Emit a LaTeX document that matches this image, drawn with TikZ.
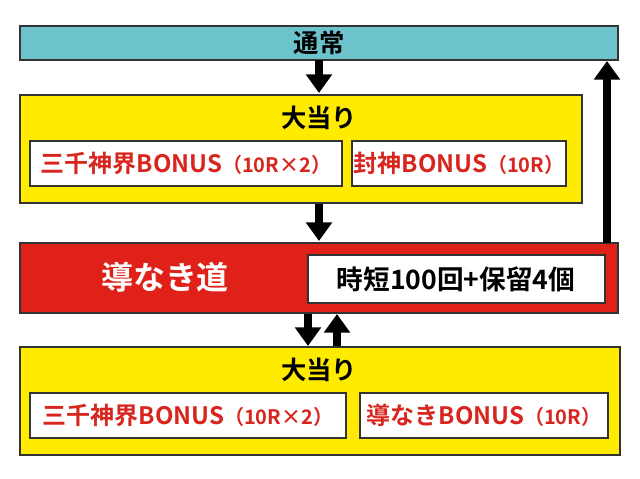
\documentclass[tikz,border=0pt]{standalone}
\usepackage{fontspec}
\setmainfont{Noto Sans CJK JP}[BoldFont={Noto Sans CJK JP Bold}]
\usetikzlibrary{arrows.meta}
\definecolor{teal1}{HTML}{6CC3CC}
\definecolor{yel}{HTML}{FFEB00}
\definecolor{red1}{HTML}{E0211A}
\definecolor{redt}{HTML}{D8251E}
\begin{document}
\begin{tikzpicture}[x=0.75pt,y=-0.75pt,
  box/.style={draw=black!80,line width=1pt},
  ibox/.style={draw=black!80,fill=white,line width=1pt},
  ttl/.style={font=\bfseries\fontsize{19}{19}\selectfont},
  rt/.style={font=\bfseries\fontsize{18}{18}\selectfont,text=redt},
  arr/.style={line width=6pt,-{Triangle[length=14pt,width=19pt]}}]
\useasboundingbox (0,0) rectangle (640,479);
\fill[white] (0,0) rectangle (640,479);
\draw[box,fill=teal1] (20,26) rectangle (618,60);
\node[ttl] (top) at (319,43) {通常};
\draw[box,fill=yel] (20,95) rectangle (582,203);
\node[ttl] (h1) at (319,118) {大当り};
\draw[ibox] (30,141) rectangle (342,186);
\node[rt] (a1) at (186,163) {三千神界BONUS\fontsize{15}{15}\selectfont（10R×2）};
\draw[ibox] (352,141) rectangle (566,186);
\node[rt] (a2) at (459,163) {封神BONUS\fontsize{15}{15}\selectfont（10R）};
\draw[box,fill=red1] (20,243) rectangle (618,313);
\node[font=\bfseries\fontsize{24}{24}\selectfont,text=white] (m) at (165,277) {導なき道};
\draw[ibox] (308,255) rectangle (605,303);
\node[font=\bfseries\fontsize{20}{20}\selectfont] (j) at (456,279) {時短100回+保留4個};
\draw[box,fill=yel] (20,347) rectangle (620,455);
\node[ttl] (h2) at (319,370) {大当り};
\draw[ibox] (30,393) rectangle (346,438);
\node[rt] (b1) at (188,415) {三千神界BONUS\fontsize{15}{15}\selectfont（10R×2）};
\draw[ibox] (360,393) rectangle (608,438);
\node[rt] (b2) at (484,415) {導なきBONUS\fontsize{15}{15}\selectfont（10R）};
\coordinate (p1) at (319,60); \coordinate (p2) at (319,93);
\coordinate (p3) at (319,204); \coordinate (p4) at (319,241);
\coordinate (p5) at (308,314); \coordinate (p6) at (308,346);
\coordinate (p7) at (337,346); \coordinate (p8) at (337,314);
\coordinate (p9) at (607,243); \coordinate (p10) at (607,61);
\draw[arr] (p1) -- (p2);
\draw[arr] (p3) -- (p4);
\draw[arr] (p5) -- (p6);
\draw[arr] (p7) -- (p8);
\draw[arr] (p9) -- (p10);
\end{tikzpicture}
\end{document}
